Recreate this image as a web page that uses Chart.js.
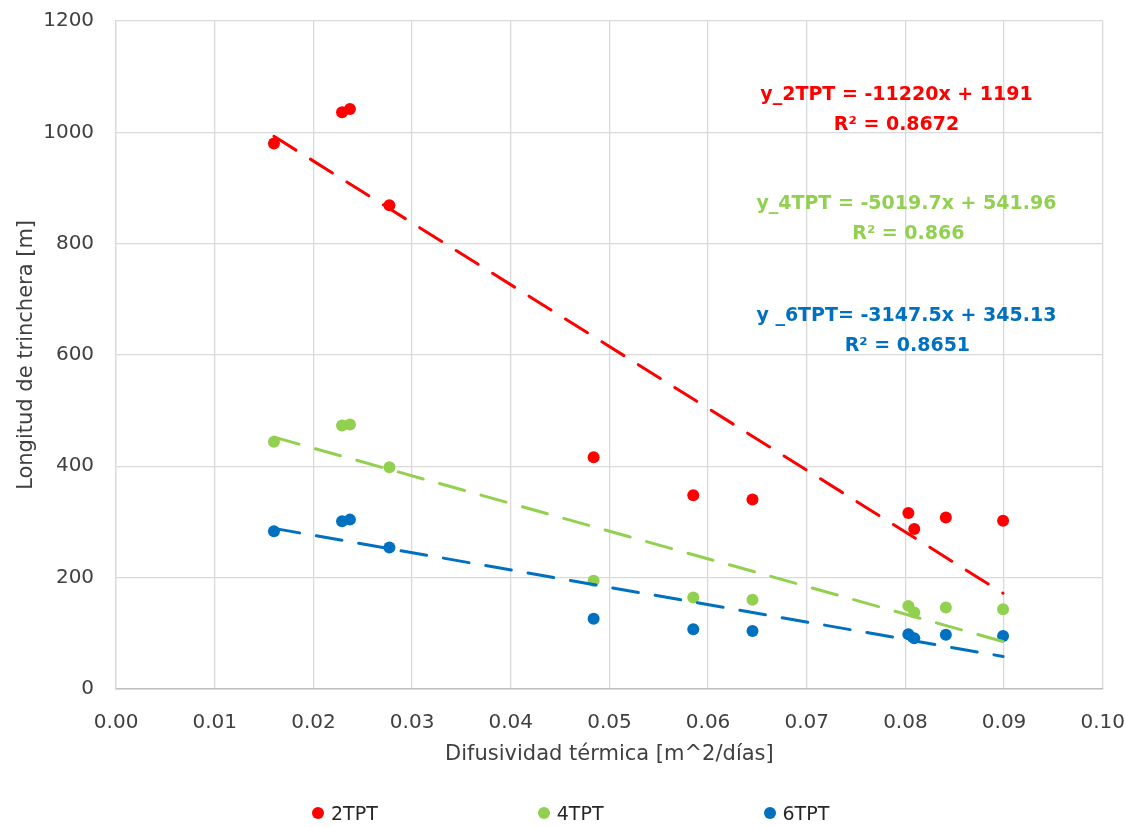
<!DOCTYPE html>
<html lang="es">
<head>
<meta charset="utf-8">
<title>Longitud de trinchera vs difusividad térmica</title>
<script src="https://cdn.jsdelivr.net/npm/chart.js@4.4.1/dist/chart.umd.min.js"></script>
<style>
  html, body { margin: 0; padding: 0; background: #fff; }
  #wrap { position: relative; width: 1125px; height: 827px; }
  #legend {
    position: absolute; left: 312px; top: 802px;
    display: flex; gap: 160px;
    font: 19px 'DejaVu Sans', sans-serif; color: #262626;
  }
  .ley-item { display: flex; align-items: center; gap: 7px; height: 22px; }
  .ley-dot { width: 12px; height: 12px; border-radius: 50%; }
</style>
</head>
<body>
<div id="wrap">
  <canvas id="chart"></canvas>
  <div id="legend"></div>
</div>
<script>
// ─── datos ───────────────────────────────────────────
const difusividad = [0.016, 0.0229, 0.0237, 0.0277, 0.0484, 0.0585, 0.0645, 0.0803, 0.0809, 0.0841, 0.0899];
const long2TPT    = [980, 1036, 1042, 869, 416, 348, 340, 316, 287, 308, 302];
const long4TPT    = [444, 473, 475, 398, 194, 164, 160, 149, 137, 146, 143];
const long6TPT    = [283, 301, 304, 254, 126, 107, 104, 98, 91, 97, 95];

const seriesNames  = ['2TPT', '4TPT', '6TPT'];
const seriesColors = ['#FF0000', '#92D050', '#0070C0'];
const ecuaciones   = ['y_2TPT = -11220x + 1191', 'y_4TPT = -5019.7x + 541.96', 'y _6TPT= -3147.5x + 345.13'];
const r2Labels     = ['R² = 0.8672', 'R² = 0.866', 'R² = 0.8651'];

// ─── tendencia lineal (mínimos cuadrados, como Excel) ─
function tendencia(xs, ys) {
  const n = xs.length;
  const mx = xs.reduce((a, b) => a + b, 0) / n;
  const my = ys.reduce((a, b) => a + b, 0) / n;
  let sxy = 0, sxx = 0;
  xs.forEach((x, i) => { sxy += (x - mx) * (ys[i] - my); sxx += (x - mx) * (x - mx); });
  const m = sxy / sxx, b = my - m * mx;
  const x0 = Math.min(...xs), x1 = Math.max(...xs);
  return [{ x: x0, y: m * x0 + b }, { x: x1, y: m * x1 + b }];
}

const series = [long2TPT, long4TPT, long6TPT];

const datasets = [];
series.forEach((ys, i) => {
  datasets.push({
    label: 'Lineal (' + seriesNames[i] + ')',
    data: tendencia(difusividad, ys),
    showLine: true,
    borderColor: seriesColors[i],
    borderWidth: 3,
    borderDash: [26, 17],
    borderCapStyle: 'round',
    pointRadius: 0,
    order: 0,
    tipo: 'tendencia',
  });
});
series.forEach((ys, i) => {
  datasets.push({
    label: seriesNames[i],
    data: difusividad.map((x, k) => ({ x: x, y: ys[k] })),
    backgroundColor: seriesColors[i],
    borderColor: seriesColors[i],
    borderWidth: 0,
    pointRadius: 6,
    pointHoverRadius: 6,
    order: 1,
    tipo: 'serie',
  });
});

// ─── etiquetas de ecuaciones ─────────────────────────
const etiquetasPlugin = {
  id: 'etiquetas',
  afterDatasetsDraw(chart, args, opts) {
    const { ctx, scales: { x, y } } = chart;
    ctx.save();
    ctx.font = "bold 19px 'DejaVu Sans', sans-serif";
    ctx.textAlign = 'center';
    ctx.textBaseline = 'middle';
    opts.items.forEach(it => {
      ctx.fillStyle = it.color;
      ctx.fillText(it.text, x.getPixelForValue(it.x), y.getPixelForValue(it.y) + 1);
    });
    ctx.restore();
  }
};

const anclas = [
  [{ x: 0.0791, y: 1069 }, { x: 0.0791, y: 1014 }],
  [{ x: 0.0801, y: 873 },  { x: 0.0803, y: 819 }],
  [{ x: 0.0801, y: 672 },  { x: 0.0802, y: 617 }],
];
const etiquetas = [];
anclas.forEach((par, i) => {
  etiquetas.push({ text: ecuaciones[i], color: seriesColors[i], x: par[0].x, y: par[0].y });
  etiquetas.push({ text: r2Labels[i],   color: seriesColors[i], x: par[1].x, y: par[1].y });
});

// ─── gráfico ─────────────────────────────────────────
Chart.defaults.font.family = "'DejaVu Sans', sans-serif";
Chart.defaults.color = '#404040';

const chart = new Chart(document.getElementById('chart'), {
  type: 'scatter',
  data: { datasets: datasets },
  options: {
    responsive: true,
    maintainAspectRatio: false,
    animation: false,
    layout: { padding: { left: 10, right: 0, top: 21, bottom: 56 } },
    scales: {
      x: {
        min: 0, max: 0.1,
        ticks: { stepSize: 0.01, padding: 0, font: { size: 20 }, callback: v => v.toFixed(2) },
        grid: { color: '#D9D9D9', lineWidth: 1.3, drawTicks: true, tickLength: 22, tickColor: 'rgba(0,0,0,0)' },
        border: { color: '#BFBFBF', width: 1.5 },
        title: { display: true, text: 'Difusividad térmica [m^2/días]', font: { size: 21 }, padding: { top: 7, bottom: 4 } },
      },
      y: {
        min: 0, max: 1200,
        ticks: { stepSize: 200, padding: 0, font: { size: 20 }, callback: v => String(v) },
        grid: { color: '#D9D9D9', lineWidth: 1.3, drawTicks: true, tickLength: 22, tickColor: 'rgba(0,0,0,0)' },
        border: { color: '#D9D9D9', width: 1.3 },
        title: { display: true, text: 'Longitud de trinchera [m]', font: { size: 21 }, padding: { top: 4, bottom: 4 } },
      },
    },
    plugins: {
      legend: { display: false },
      tooltip: { enabled: false },
      etiquetas: { items: etiquetas },
    },
  },
  plugins: [etiquetasPlugin],
});

// ─── leyenda ─────────────────────────────────────────
const ley = document.getElementById('legend');
chart.data.datasets.filter(d => d.tipo === 'serie').forEach(d => {
  const item = document.createElement('div');
  item.className = 'ley-item';
  item.innerHTML = `<span class="ley-dot" style="background:${d.backgroundColor}"></span><span>${d.label}</span>`;
  ley.appendChild(item);
});
</script>
</body>
</html>
